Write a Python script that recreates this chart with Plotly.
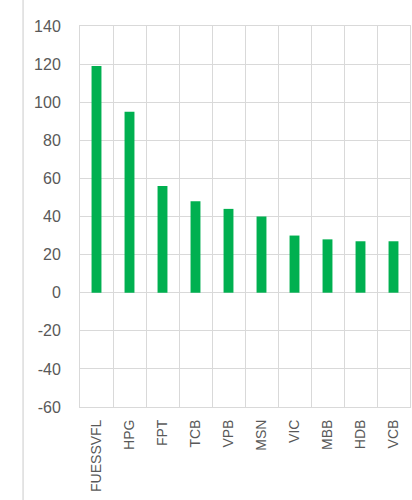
import plotly.graph_objects as go

categories = ["FUESSVFL", "HPG", "FPT", "TCB", "VPB", "MSN", "VIC", "MBB", "HDB", "VCB"]
values = [119, 95, 56, 48, 44, 40, 30, 28, 27, 27]
y_tick_vals = [-60, -40, -20, 0, 20, 40, 60, 80, 100, 120, 140]
y_tick_text = ["-60", "-40", "-20", "0", "20", "40", "60", "80", "100", "120", "140"]

GRID = "#d9d9d9"
TXT = "#595959"
FONT = "Liberation Sans, Arial, sans-serif"

fig = go.Figure(
    go.Bar(
        x=categories,
        y=values,
        marker=dict(color="#00b050", line=dict(width=0)),
        width=0.3,
    )
)

fig.update_layout(
    width=412,
    height=500,
    margin=dict(l=80, r=2, t=26, b=93),
    paper_bgcolor="white",
    plot_bgcolor="white",
    showlegend=False,
    font=dict(family=FONT, size=15, color=TXT),
    shapes=[
        dict(type="line", xref="paper", yref="paper", x0=-0.1725, x1=-0.1725,
             y0=-0.3, y1=1.1, line=dict(color="#dcdcdc", width=1.5)),
    ],
)

fig.update_xaxes(
    type="category",
    tickson="boundaries",
    showgrid=True,
    gridcolor=GRID,
    gridwidth=1,
    showline=True,
    linecolor=GRID,
    mirror=True,
    ticks="",
    tickangle=-90,
    tickfont=dict(family=FONT, size=14, color=TXT),
    ticklabelstandoff=6,
)

fig.update_yaxes(
    range=[-60, 140],
    tickvals=y_tick_vals,
    ticktext=y_tick_text,
    showgrid=True,
    gridcolor=GRID,
    gridwidth=1,
    zeroline=True,
    zerolinecolor=GRID,
    zerolinewidth=1,
    showline=True,
    linecolor=GRID,
    mirror=True,
    ticks="",
    tickfont=dict(family=FONT, size=16, color=TXT),
    ticklabelstandoff=15,
)

fig.write_html("out.html")
